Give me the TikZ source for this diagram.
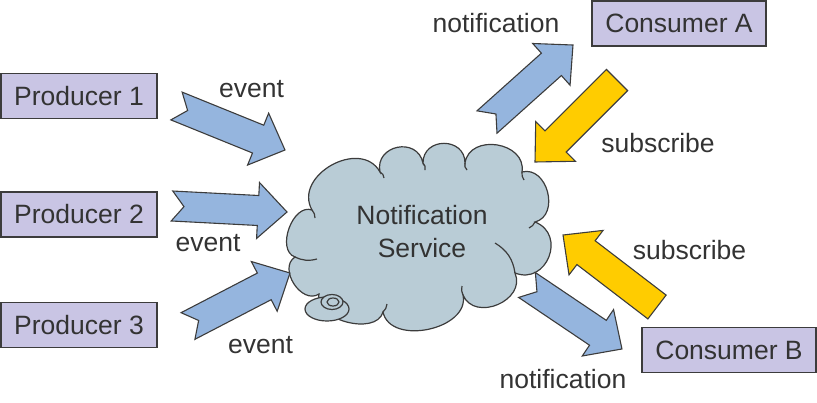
\documentclass[tikz,border=0pt]{standalone}
\usepackage{fontspec}
\setmainfont{Liberation Sans}
\definecolor{boxfill}{RGB}{201,197,228}
\definecolor{cloudfill}{RGB}{185,204,214}
\definecolor{arrblue}{RGB}{149,181,222}
\definecolor{arryellow}{RGB}{255,204,0}
\definecolor{edge}{RGB}{60,60,60}
\definecolor{txt}{RGB}{51,51,51}
\newcommand\blockarrow[6]{%
  \pgfmathsetmacro\baAng{atan2((#3)-(#5),(#4)-(#2))}%
  \pgfmathsetmacro\baLen{veclen((#4)-(#2),(#5)-(#3))}%
  \pgfmathsetmacro\baNeck{\baLen-29}%
  \draw[#1, shift={(#2,#3)}, rotate=\baAng]
    (0pt,15pt) -- (\baNeck pt,15pt) -- (\baNeck pt,28pt) -- (\baLen pt,0pt)
    -- (\baNeck pt,-28pt) -- (\baNeck pt,-15pt) -- (0pt,-15pt) -- (#6 pt,0pt) -- cycle;
}
\begin{document}
\begin{tikzpicture}[x=1pt,y=-1pt,
  every node/.style={text=txt,font=\fontsize{26.5}{33}\selectfont},
  actor/.style={draw=edge,line width=1.2pt,fill=boxfill,minimum width=156pt,minimum height=45pt,inner sep=0pt},
  lbl/.style={anchor=base,inner sep=0pt},
  bluearr/.style={draw=edge,line width=1.1pt,fill=arrblue,line join=miter},
  yelarr/.style={draw=edge,line width=1.1pt,fill=arryellow,line join=miter},
  cloudline/.style={draw=edge,line width=1.2pt}]
\useasboundingbox (0,0) rectangle (817,402);

% boxes
\node[actor] (p1) at (79,96) {Producer 1};
\node[actor] (p2) at (79,214.5) {Producer 2};
\node[actor] (p3) at (79,325) {Producer 3};
\node[actor,minimum width=174pt] (ca) at (679,23.5) {Consumer A};
\node[actor,minimum width=174pt] (cb) at (729,350) {Consumer B};

% cloud
\coordinate (c1) at (312,210);
\coordinate (c2) at (380,172);
\coordinate (c3) at (423,163);
\coordinate (c4) at (465,163);
\coordinate (c5) at (522,172);
\coordinate (c6) at (535,222);
\coordinate (c7) at (515,273);
\coordinate (c8) at (463,295);
\coordinate (c9) at (383,312);
\coordinate (c10) at (319,294);
\coordinate (c11) at (295,257);
\path[cloudline,fill=cloudfill]
  (c1) to[bend left=90,looseness=1.3] (c2)
  to[bend left=90,looseness=1.6] (c3)
  to[bend left=90,looseness=1.6] (c4)
  to[bend left=90,looseness=1.35] (c5)
  to[bend left=90,looseness=1.3] (c6)
  to[bend left=90,looseness=1.6] (c7)
  to[bend left=90,looseness=1.35] (c8)
  to[bend left=90,looseness=1.1] (c9)
  to[bend left=90,looseness=1.0] (c10)
  to[bend left=90,looseness=1.2] (c11)
  to[bend left=90,looseness=1.05] cycle;
% interior hooks
\draw[cloudline] (c11) to[bend right=20] (317,259);
\draw[cloudline] (c1) to[bend left=20] (315,218);
\draw[cloudline] (c2) to[bend left=30] (384,178);
\draw[cloudline] (c3) to[bend left=30] (425,170);
\draw[cloudline] (c4) to[bend right=30] (467,170);
\draw[cloudline] (c5) to[bend right=20] (524,180);
\draw[cloudline] (c6) to[bend left=20] (529,228);
\draw[cloudline] (495,243) to[bend left=25] (c7);
\draw[cloudline] (c8) to[bend left=20] (462,286);
\draw[cloudline] (c9) to[bend right=20] (387,304);
% small bubbles
\draw[cloudline,fill=cloudfill] (327,309) ellipse [x radius=22, y radius=12];
\draw[cloudline,fill=cloudfill] (332,302) ellipse [x radius=11, y radius=7.5];
\draw[cloudline] (333,302) ellipse [x radius=6, y radius=4];
\node[align=center,inner sep=0pt] (ns) at (422,232) {Notification\\Service};

% arrows
\blockarrow{bluearr}{176.5}{106}{285}{150}{12}
\blockarrow{bluearr}{172}{206}{287}{212}{12}
\blockarrow{bluearr}{188}{326}{290}{273}{12}
\blockarrow{bluearr}{487}{122}{573}{45}{12}
\blockarrow{yelarr}{617}{80}{535}{162}{0}
\blockarrow{yelarr}{657}{307}{563}{235}{0}
\blockarrow{bluearr}{527}{285}{622}{349}{12}

% labels
\node[lbl] (e1) at (251.5,97) {event};
\node[lbl] (e2) at (208,251) {event};
\node[lbl] (e3) at (260.5,353) {event};
\node[lbl] (na) at (496,32) {notification};
\node[lbl] (sa) at (658,152) {subscribe};
\node[lbl] (sb) at (689.5,259) {subscribe};
\node[lbl] (nb) at (563,388) {notification};
\end{tikzpicture}
\end{document}
